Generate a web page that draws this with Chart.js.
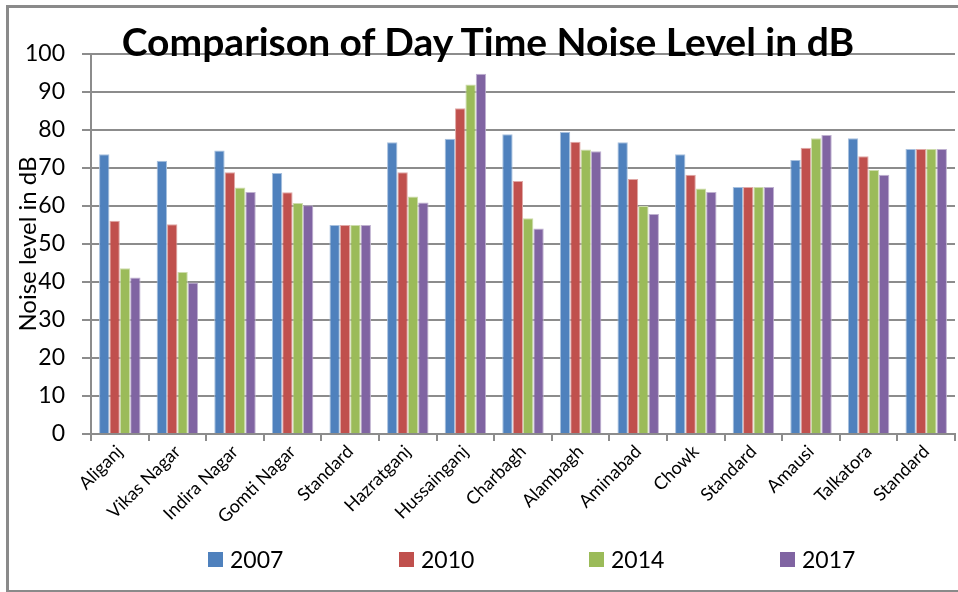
<!DOCTYPE html>
<html>
<head>
<meta charset="utf-8">
<script src="https://cdn.jsdelivr.net/npm/chart.js@4.4.1/dist/chart.umd.min.js"></script>
<style>
  body { margin: 0; background: #fff; }
  #wrap { position: relative; width: 958px; height: 592px; overflow: hidden; font-family: Lato, sans-serif; }
  #frame { position: absolute; left: 6px; top: 5px; width: 960px; height: 582px; border: 3px solid #8a8a8a; }
  #myChart { position: absolute; left: 0; top: 0; }
  #title { position: absolute; left: 0; width: 976px; top: 18px; text-align: center; font-weight: bold; font-size: 39px; color: #000; pointer-events: none; }
  #legend { position: absolute; top: 544px; left: 0; width: 958px; height: 30px; }
  .item { position: absolute; top: 0; font-size: 23px; line-height: 30px; color: #000; }
  .box { display: inline-block; width: 15px; height: 15px; margin-right: 7px; vertical-align: 1px; }
</style>
</head>
<body>
<div id="wrap">
  <canvas id="myChart" width="958" height="592"></canvas>
  <div id="frame"></div>
  <div id="title">Comparison of Day Time Noise Level in dB</div>
  <div id="legend"></div>
</div>
<script>
'use strict';

const places = ['Aliganj', 'Vikas Nagar', 'Indira Nagar', 'Gomti Nagar', 'Standard',
    'Hazratganj', 'Hussainganj', 'Charbagh', 'Alambagh', 'Aminabad', 'Chowk',
    'Standard', 'Amausi', 'Talkatora', 'Standard'];

const years = ['2007', '2010', '2014', '2017'];

const noise2007 = [73.6, 71.9, 74.6, 68.7, 55, 76.8, 77.7, 78.9, 79.5, 76.8, 73.6, 65, 72.1, 77.8, 75];
const noise2010 = [56.1, 55.2, 68.9, 63.6, 55, 68.9, 85.7, 66.6, 76.9, 67.1, 68.2, 65, 75.3, 73.1, 75];
const noise2014 = [43.6, 42.6, 64.9, 60.8, 55, 62.5, 92.0, 56.8, 74.9, 60.0, 64.6, 65, 77.8, 69.5, 75];
const noise2017 = [41.2, 39.9, 63.7, 60.2, 55, 60.9, 94.8, 54.1, 74.4, 57.9, 63.7, 65, 78.7, 68.2, 75];

const yTicks = [0, 10, 20, 30, 40, 50, 60, 70, 80, 90, 100];

const colors = ['#4f81bd', '#c0504d', '#9bbb59', '#8064a2'];
const edges = ['#a7c0de', '#e0a8a6', '#cddcac', '#bfb1d0'];

const series = [noise2007, noise2010, noise2014, noise2017];

function makeDataset(values, index) {
    return {
        label: years[index],
        data: values,
        backgroundColor: colors[index],
        borderColor: edges[index],
        borderWidth: { top: 1, left: 1, right: 1, bottom: 0 },
        categoryPercentage: 0.72,
        barPercentage: 1.0
    };
}

const gridGray = '#8c8c8c';

var ctx = document.getElementById('myChart').getContext('2d');
var chart = new Chart(ctx, {
    type: 'bar',
    data: {
        labels: places,
        datasets: series.map((values, index) => makeDataset(values, index))
    },
    options: {
        responsive: false,
        animation: false,
        layout: { padding: { left: 8, top: 54, right: 3, bottom: 0 } },
        plugins: {
            legend: { display: false },
            tooltip: { enabled: false }
        },
        scales: {
            x: {
                afterFit: (scale) => { scale.height = 158; },
                grid: {
                    offset: true,
                    drawOnChartArea: false,
                    drawTicks: true,
                    tickLength: 7,
                    color: gridGray,
                    lineWidth: 2
                },
                border: { color: gridGray, width: 2 },
                ticks: {
                    color: '#000',
                    font: { family: 'Lato', size: 18 },
                    minRotation: 45,
                    maxRotation: 45,
                    autoSkip: false,
                    padding: 0
                }
            },
            y: {
                min: 0,
                max: 100,
                afterFit: (scale) => { scale.width = 83; },
                afterBuildTicks: (scale) => { scale.ticks = yTicks.map(v => ({ value: v })); },
                grid: {
                    color: gridGray,
                    lineWidth: 2,
                    tickLength: 9
                },
                border: { color: gridGray, width: 2 },
                ticks: {
                    color: '#000',
                    font: { family: 'Lato', size: 23 },
                    padding: 17
                },
                title: {
                    display: true,
                    text: 'Noise level in dB',
                    color: '#000',
                    font: { family: 'Lato', size: 24 },
                    padding: { top: 6, bottom: 0 }
                }
            }
        }
    }
});

// legend spaced like the original sheet
function buildLegend() {
    const spots = [208, 399, 589, 780];
    const html = years.map((year, i) => `
    <div class='item' style='left:${spots[i]}px'><span class='box' style='background:${colors[i]}'></span>${year}</div>
    `);
    document.getElementById('legend').innerHTML = html.join('');
}

buildLegend();
</script>
</body>
</html>
